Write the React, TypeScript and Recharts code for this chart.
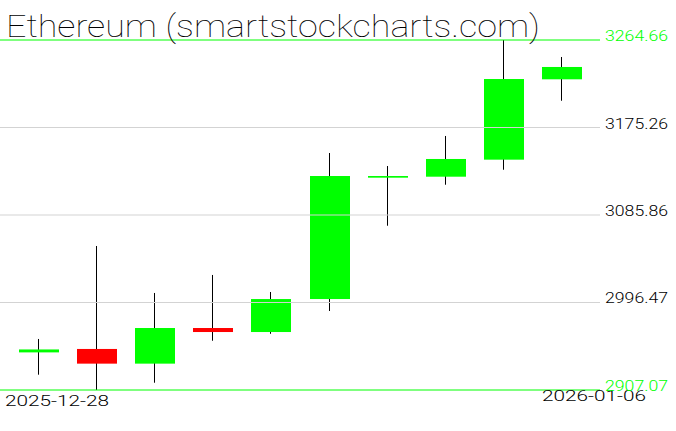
import React from "react";
import { ComposedChart, Bar, XAxis, YAxis, ReferenceLine } from "recharts";

const dates = [
  "2025-12-28",
  "2025-12-29",
  "2025-12-30",
  "2025-12-31",
  "2026-01-01",
  "2026-01-02",
  "2026-01-03",
  "2026-01-04",
  "2026-01-05",
  "2026-01-06",
];
const opens = [2945.5, 2949, 2934, 2970.4, 2966.3, 3000, 3124, 3125, 3142.4, 3224.5];
const highs = [2959.2, 3054.2, 3006.2, 3024.6, 3007.2, 3149.2, 3135.9, 3166.6, 3264.66, 3247.3];
const lows = [2922.7, 2907.07, 2914.5, 2957.4, 2964.5, 2987.8, 3074.9, 3116.8, 3132.1, 3202.6];
const closes = [2948.5, 2934, 2970.4, 2966.3, 3000, 3125.7, 3125.7, 3143.1, 3224.8, 3237.1];

const yTicks = [2907.07, 2996.47, 3085.86, 3175.26, 3264.66];
const title = "Ethereum (smartstockcharts.com)";

const data = dates.map((d, i) => ({
  idx: i,
  date: d,
  open: opens[i],
  close: closes[i],
  range: [lows[i], highs[i]],
}));

const GREEN = "#00ff00";
const RED = "#ff0000";
const LABEL_FONT = "Roboto, 'DejaVu Sans', sans-serif";

function Candle(props: any) {
  const { x, y, width, height, payload } = props;
  const [low, high] = payload.range;
  const top0 = Math.min(y, y + height);
  const h = Math.abs(height);
  const k = h / (high - low);
  const py = (v: number) => top0 + (high - v) * k;
  const cx = Math.round(x + width / 2) - 0.5;
  const up = payload.close >= payload.open;
  const bTop = py(Math.max(payload.open, payload.close));
  const bBot = py(Math.min(payload.open, payload.close));
  return (
    <g>
      <line x1={cx} x2={cx} y1={top0} y2={top0 + h} stroke="#000" strokeWidth={1} />
      <rect
        x={Math.round(x)}
        y={bTop}
        width={width}
        height={Math.max(bBot - bTop, 1.5)}
        fill={up ? GREEN : RED}
      />
    </g>
  );
}

function DateTick(props: any) {
  const { payload } = props;
  const first = payload.value === 0;
  return (
    <text
      x={first ? 5 : 646}
      y={first ? 406 : 401}
      textAnchor={first ? "start" : "end"}
      fontFamily={LABEL_FONT}
      fontWeight={300}
      fontSize={15.5}
      textLength={104}
      lengthAdjust="spacingAndGlyphs"
      fill="#000"
    >
      {dates[payload.value]}
    </text>
  );
}

function PriceTick(props: any) {
  const { y, payload } = props;
  const edge = payload.value === yTicks[0] || payload.value === yTicks[yTicks.length - 1];
  return (
    <text
      x={605}
      y={y + 1}
      fontFamily={LABEL_FONT}
      fontWeight={300}
      fontSize={15.5}
      textLength={63}
      lengthAdjust="spacingAndGlyphs"
      fill={edge ? GREEN : "#000"}
    >
      {payload.value.toFixed(2)}
    </text>
  );
}

export default function App() {
  return (
    <div style={{ position: "absolute", left: 0, top: 0, width: 676, height: 431, background: "#fff" }}>
      <ComposedChart width={676} height={431} data={data} margin={{ top: 40, right: 0, bottom: 11, left: 0 }}>
        <XAxis
          dataKey="idx"
          type="number"
          domain={[-0.677, 9.659]}
          ticks={[0, 9]}
          allowDataOverflow
          axisLine={false}
          tickLine={false}
          height={30}
          tick={<DateTick />}
        />
        <YAxis
          orientation="right"
          type="number"
          domain={[yTicks[0], yTicks[yTicks.length - 1]]}
          ticks={yTicks}
          allowDataOverflow
          axisLine={false}
          tickLine={false}
          width={76}
          tick={<PriceTick />}
          interval={0}
        />
        <Bar dataKey="range" barSize={40} isAnimationActive={false} shape={<Candle />} />
        {yTicks.map((v, i) => (
          <ReferenceLine
            key={v}
            y={v}
            stroke={i === 0 || i === yTicks.length - 1 ? GREEN : "#d3d3d3"}
            strokeWidth={1}
          />
        ))}
      </ComposedChart>
      <svg width={676} height={60} style={{ position: "absolute", left: 0, top: 0 }}>
        <text
          x={6}
          y={37}
          fontFamily="Roboto, 'DejaVu Sans', sans-serif"
          fontWeight={100}
          fontSize={31}
          textLength={534}
          lengthAdjust="spacingAndGlyphs"
          fill="#000"
        >
          {title}
        </text>
      </svg>
    </div>
  );
}
